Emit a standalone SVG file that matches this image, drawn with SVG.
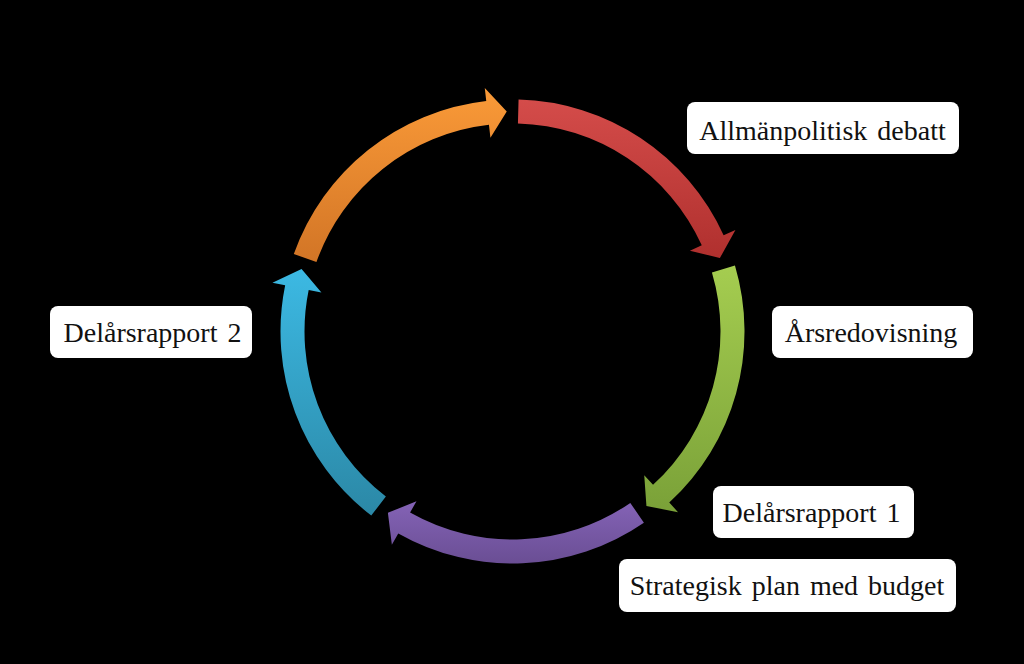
<svg xmlns="http://www.w3.org/2000/svg" width="1024" height="664" viewBox="0 0 1024 664">
<style>
.box{fill:#ffffff;}
.lbl{font-family:"Liberation Serif","Times New Roman",serif;font-size:28px;fill:#111111;text-anchor:middle;word-spacing:3px;}
</style>
<defs>
<linearGradient id="gRed" x1="0" y1="0" x2="0" y2="1"><stop offset="0" stop-color="#d44c4a"/><stop offset="1" stop-color="#b0302e"/></linearGradient>
<linearGradient id="gGreen" x1="0" y1="0" x2="0" y2="1"><stop offset="0" stop-color="#a5cd50"/><stop offset="1" stop-color="#7aa138"/></linearGradient>
<linearGradient id="gPurple" x1="0" y1="0" x2="0" y2="1"><stop offset="0" stop-color="#8463b6"/><stop offset="1" stop-color="#6a4e94"/></linearGradient>
<linearGradient id="gBlue" x1="0" y1="0" x2="0" y2="1"><stop offset="0" stop-color="#3cb9e3"/><stop offset="1" stop-color="#2b88a6"/></linearGradient>
<linearGradient id="gOrange" x1="0" y1="0" x2="0" y2="1"><stop offset="0" stop-color="#fa9a38"/><stop offset="1" stop-color="#d27526"/></linearGradient>
</defs>
<rect x="0" y="0" width="1024" height="664" fill="#000000"/>
<g id="connectors">
<path fill="url(#gRed)" d="M518.57,99.58 A232,232 0 0 1 723.61,235.29 L735.44,229.90 L719.88,258.06 L689.94,250.63 L701.77,245.24 A208,208 0 0 0 517.94,123.57 Z"/>
<path fill="url(#gGreen)" d="M734.95,265.61 A232,232 0 0 1 669.24,502.55 L678.02,512.13 L646.43,506.04 L644.24,475.27 L653.02,484.85 A208,208 0 0 0 711.93,272.42 Z"/>
<path fill="url(#gPurple)" d="M643.91,522.70 A232,232 0 0 1 398.26,533.42 L391.86,544.74 L387.89,512.81 L416.48,501.22 L410.08,512.53 A208,208 0 0 0 630.31,502.92 Z"/>
<path fill="url(#gBlue)" d="M371.27,515.56 A232,232 0 0 1 285.16,285.25 L272.42,282.65 L301.56,269.02 L321.42,292.62 L308.68,290.03 A208,208 0 0 0 385.88,496.52 Z"/>
<path fill="url(#gOrange)" d="M293.81,254.06 A232,232 0 0 1 486.24,100.99 L484.77,88.08 L506.74,111.58 L490.43,137.75 L488.95,124.84 A208,208 0 0 0 316.43,262.07 Z"/>
</g>
<g id="node-allmanpolitisk">
<rect class="box" x="687" y="102" width="272" height="52" rx="8"/>
<text class="lbl" x="822.5" y="140">Allmänpolitisk debatt</text>
</g>
<g id="node-arsredovisning">
<rect class="box" x="772" y="306" width="201" height="52" rx="8"/>
<text class="lbl" x="871" y="342">Årsredovisning</text>
</g>
<g id="node-delarsrapport1">
<rect class="box" x="713" y="486" width="201" height="52" rx="8"/>
<text class="lbl" x="811.5" y="521.5">Delårsrapport 1</text>
</g>
<g id="node-strategisk">
<rect class="box" x="619" y="559" width="337" height="53" rx="8"/>
<text class="lbl" x="787" y="594.5">Strategisk plan med budget</text>
</g>
<g id="node-delarsrapport2">
<rect class="box" x="50" y="306" width="202" height="52" rx="8"/>
<text class="lbl" x="152.5" y="342">Delårsrapport 2</text>
</g>
</svg>
